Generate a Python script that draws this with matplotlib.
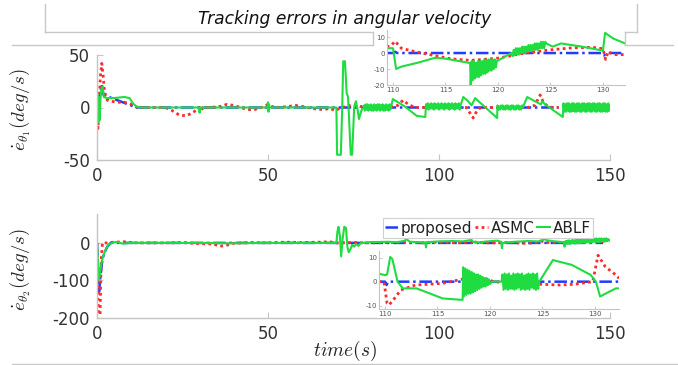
import numpy as np
import matplotlib
matplotlib.use("Agg")
import matplotlib.pyplot as plt
from matplotlib.lines import Line2D

plt.rcParams['font.family'] = ['DejaVu Sans']
plt.rcParams['mathtext.fontset'] = 'cm'
plt.rcParams['axes.unicode_minus'] = False

# ---------------- data ----------------
series_names = ["proposed", "ASMC", "ABLF"]
colors = {"proposed": "#1f3cff", "ASMC": "#ff2a2a", "ABLF": "#1fdc40"}

x_ticks_main = [0, 50, 100, 150]
y_ticks_top = [-50, 0, 50]
y_ticks_bot = [-200, -100, 0]
x_ticks_inset = [110, 115, 120, 125, 130]
y_ticks_inset_top = [-20, -10, 0, 10]
y_ticks_inset_bot = [-10, 0, 10]

# top main panel
top_t_prop = [0, 0.3, 0.6, 1.0, 1.4, 1.9, 11.5, 135]
top_v_prop = [0, -10, 4, 15, 22, 12, 0, 0]

top_t_asmc = [0, 0.3, 0.6, 1.0, 1.4, 1.8, 2.2, 3, 4, 6, 8, 10, 11, 12, 15, 20, 22, 24, 26, 28,
              30, 30.5, 31, 33, 36, 38, 40, 42, 44, 46, 48, 50, 51, 53, 56, 58, 60, 63, 66, 68,
              70, 71, 73, 75, 77, 80, 85, 88, 89.5, 91, 93, 100, 105, 108, 110, 110.6, 111.5,
              113, 118, 122, 126, 128, 129.6, 130.5, 131.5, 133, 135]
top_v_asmc = [0, -20, 5, 30, 42, 30, 15, 7, 6, 5, 5, 3, 1, 0, 0, 0, -3, -7, -8, -5,
              0, -3, 0, 0, 1, 3, 2, 0, -2, -2, 0, 3, 1, 0, 1, 2, 1, -1, -2, -1,
              -3, 0, 1, 3, 1, 0, 0, 2, 7, 3, 0, 0, 0, 0, -10, -6, -1,
              0, 0, 0, 0, 2, 12, 5, 2, 0, 0]

top_ablf_a_t = [0, 0.2, 0.4, 0.6, 0.8, 1.0, 1.3, 1.6, 2.0, 3, 5, 8, 9.5, 10.5, 11.5, 12.5,
                29.7, 30.0, 30.3, 49.8, 50.0, 50.15, 50.3, 50.5, 70.0, 70.2, 71.3, 71.7,
                72.0, 72.5, 73.0, 73.4, 74.2, 74.6, 75.2, 75.7, 76.2, 76.6, 77.3, 77.9]
top_ablf_a_v = [0, 12, -14, 10, -12, 8, 18, 20, 10, 9, 9, 10, 9, 4, 1, 0,
                0, -5, 0, 0, 5, -4, 3, 0, 0, -45, -45, 0,
                44, 44, 14, 10, -45, -45, 0, 6, -2, -11, -3, 0]
top_ablf_chat1 = [2, -3, 3, -2, 3, -3, 2, -2, 3, -3, 2, -3, 3, -2, 2, -3, 3, -2, 3, -3, 2, -2,
                  3, -3, 2, -3, 3, -2, 2, -3, 3, -2, 1]
top_ablf_b_t = [86.5, 90, 93.5, 96.0]
top_ablf_b_v = [8, 1, -8, -9]
top_ablf_chat2 = [3, -1, 4, -2, 3, -1, 4, -1, 3, -2, 4, -1, 3, -1, 4, -2, 3, -1, 4, -1, 3,
                  -2, 4, -1, 3, -1, 4, -2, 3, -1, 4, -1, 3, -2, 4, -1, 3, -1, 4, -2, 2]
top_ablf_c_t = [107.1, 108.5, 109.5, 110.6, 111.2, 117.0]
top_ablf_c_v = [10, 6, 2, 9, 7, -10]
top_ablf_chat3 = [2, -2, 1, -2, 2, -1, 2, -2, 1, -2, 2, -1, 2, -2, 1, -2, 2, -1, 2, -2, 1,
                  -2, 2, -1, 2, -2, 1, -2, 2, 0]
top_ablf_d_t = [125.8, 128.0, 129.8, 130.2, 131.0, 136.2]
top_ablf_d_v = [10, 6, 3, 6, 3, -9]
top_ablf_chat4 = [4, -4, 3, -4, 4, -3, 4, -4, 3, -4, 4, -3, 4, -4, 3, -4, 4, -3, 4, -4, 3,
                  -4, 4, -3, 4, -4, 3, -4, 4, -3, 4, -4, 3, -4, 4, -3, 4, -4, 3, -4, 4, -3,
                  4, -4, 3, -4, 4, -3, 4, -4, 3, -4, 4, -3, 2]

# top inset
ti_t_prop = [109.4, 110.0, 110.2, 110.4, 129.9, 130.1, 130.3, 132.3]
ti_v_prop = [0, 0, 0.8, 0, 0, -1.5, 0, 0]
ti_t_asmc = [109.4, 109.8, 110.2, 110.8, 112.0, 113.5, 115.5, 117.4, 119.0, 120.0, 121.0,
             122.0, 123.8, 125.0, 127.0, 129.0, 130.0, 130.25, 130.5, 131.0, 132.3]
ti_v_asmc = [4, 4.5, 7.4, 3, 1, -1, -3.6, -4.6, -3.8, -3.2, -2,
             -0.6, 1, 2, 3.2, 3.6, 2.7, -4, 1, -1, -1]
ti_ablf_a_t = [109.4, 110.0, 110.3, 110.8, 112.4, 114.0, 115.0, 117.35]
ti_ablf_a_v = [3, 3, -10, -8.5, -6, -3, -3.5, -6.3]
ti_ablf_chat1 = [-20, -5, -17, -5, -16, -6, -15, -5, -15, -5, -14, -5, -13, -4, -13, -5,
                 -12, -4, -11, -4, -11, -4, -10, -4, -9, -5]
ti_ablf_b_t = [121.3]
ti_ablf_b_v = [0]
ti_ablf_chat2 = [-2, 2, -1, 3, -1, 3, -1, 3, 0, 4, 0, 4, 0, 4, 1, 5, 1, 5, 1, 5, 2, 6, 2,
                 6, 2, 6, 3, 7, 3, 7, 3, 7, 6]
ti_ablf_c_t = [125.2, 126.0, 128.0, 130.0, 130.2, 131.0, 132.3]
ti_ablf_c_v = [4, 6, 4, 1.5, 12.6, 9, 5.5]

# bottom main panel
bm_t_prop = [0, 0.3, 0.6, 1.0, 1.5, 2.0, 3.0, 4.0, 148]
bm_v_prop = [0, -60, -130, -90, -50, -30, -10, 0, 0]
bm_t_asmc = [0, 0.2, 0.4, 0.9, 1.2, 1.6, 3, 5, 8, 10, 12, 20, 25, 30, 34, 36, 38, 40, 45,
             50, 55, 60, 65, 68, 70, 75, 80, 90, 95, 100, 105, 109.5, 110, 110.5, 115, 120,
             125, 128, 130, 131, 140, 145, 148]
bm_v_asmc = [0, -100, -190, -190, -50, 0, 0, 2, 3, 1, 0, 0, 1, -2, -3, -9, -6, -1, 1,
             0, 2, 1, 2, 3, 0, 1, 0, 2, 0, 2, 0, 1, 8, 2, 0, 1,
             -1, 0, 5, 1, 1, 2, 3]
bm_ablf_a_t = [0, 0.3, 0.6, 1.0, 1.5, 2.3, 3.3, 4.9, 6, 7.5, 10, 30, 40, 50, 70, 70.3,
               70.6, 71.0, 71.4, 71.8, 72.3, 72.8, 73.2, 73.6, 74.2, 74.6, 75.2, 75.8,
               76.5, 77, 80, 85, 88, 90, 90.5, 91.5, 94, 96, 96.2, 96.4, 100, 104, 107,
               109.5, 110, 111.5, 114, 117, 118.2, 118.4, 118.6, 122, 126, 129, 131,
               131.5, 134, 136.5, 136.7, 136.9]
bm_ablf_a_v = [0, -60, -98, -70, -45, -23, -5, 2, 2, -2, 0, 0, -1, 0, 0, 30,
               43, 20, -36, 10, 43, 40, -10, -25, -15, -5, -10, -3,
               -8, -1, 2, 3, 2, 6, 10, 3, 2, 0, -12, 2, 4, 5, 4,
               8, 3, 1, 4, 6, 3, -14, 0, 3, 5, 4, 10,
               7, 4, 2, -10, 0]
bm_ablf_chat = [5, -3, 6, -2, 7, -3, 6, -2, 8, -1, 7, -2, 8, -1, 9, 0, 8, -1, 9, 0, 10, 1,
                9, 0, 10, 1, 11, 2, 10, 1, 11, 2, 12, 3, 11, 2, 12, 3, 11, 2, 12, 3, 12, 4,
                11, 3, 12, 4, 12, 5, 10, 6, 8]

# bottom inset
bi_t_prop = [109.4, 110.0, 110.15, 110.3, 132.3]
bi_v_prop = [0, 0, -1.4, 0, 0]
bi_t_asmc = [109.4, 109.9, 110.2, 110.4, 110.9, 111.5, 112.9, 115.5, 117.0, 118.4, 119.4,
             120.4, 122.0, 125.0, 126.6, 128.0, 129.8, 130.3, 131.0, 132.0, 132.3]
bi_v_asmc = [0, 0, -9, -9.7, -7, -3.5, -1.4, -0.7, 0.7, 2, 1.4,
             0, -0.7, -1.1, -1.4, -1.1, 0, 11, 6.2, 2.8, 1.4]
bi_ablf_a_t = [109.4, 110.0, 110.2, 110.5, 110.7, 111.2, 111.7, 113.0, 114.2, 115.5, 117.4]
bi_ablf_a_v = [3.4, 2.7, 3, 10.3, 9.5, 0, -2.8, -2.8, -4.8, -7, -7.6]
bi_ablf_chat1 = [6, -6, 5.5, -5.5, 5, -5, 4.5, -5, 4, -4.5, 3.5, -4, 3, -3.5, 3, -3, 2.5,
                 -2.5, 2, -2, 1.5, -2, 1.5, -1.5, 1, -1]
bi_ablf_b_t = [120.2, 121.1]
bi_ablf_b_v = [0, 0]
bi_ablf_chat2 = [3, -3.4, 3.4, -3, 3, -3.4, 3.4, -3, 2.5, -3, 3.4, -3.4, 3, -3, 3.4, -2.5,
                 3, -3.4, 3.4, -3, 2.5, -3.4, 3, -3, 3.4, -3.4, 3, -2.5, 3.4, -3, 3, -3.4,
                 3.4, -3, 0]
bi_ablf_c_t = [126.0, 127.8, 129.6, 130.1, 130.5, 131.1, 132.0, 132.3]
bi_ablf_c_v = [9, 7, 2.8, 0, -6.2, -4.8, -2.8, -2.8]


def build(pieces):
    ts, vs = [], []
    for p in pieces:
        if p[0] == "pts":
            ts.extend(p[1]); vs.extend(p[2])
        else:
            _, t0, t1, vals = p
            ts.extend(np.linspace(t0, t1, len(vals))); vs.extend(vals)
    return np.array(ts), np.array(vs)


top_ablf = build([("pts", top_ablf_a_t, top_ablf_a_v), ("chat", 78.1, 86.0, top_ablf_chat1),
                  ("pts", top_ablf_b_t, top_ablf_b_v), ("chat", 96.2, 106.3, top_ablf_chat2),
                  ("pts", top_ablf_c_t, top_ablf_c_v), ("chat", 117.1, 124.5, top_ablf_chat3),
                  ("pts", top_ablf_d_t, top_ablf_d_v), ("chat", 136.4, 150.0, top_ablf_chat4)])
ti_ablf = build([("pts", ti_ablf_a_t, ti_ablf_a_v), ("chat", 117.4, 119.9, ti_ablf_chat1),
                 ("pts", ti_ablf_b_t, ti_ablf_b_v), ("chat", 121.4, 124.6, ti_ablf_chat2),
                 ("pts", ti_ablf_c_t, ti_ablf_c_v)])
bm_ablf = build([("pts", bm_ablf_a_t, bm_ablf_a_v), ("chat", 137.0, 150.0, bm_ablf_chat)])
bi_ablf = build([("pts", bi_ablf_a_t, bi_ablf_a_v), ("chat", 117.45, 120.0, bi_ablf_chat1),
                 ("pts", bi_ablf_b_t, bi_ablf_b_v), ("chat", 121.2, 124.7, bi_ablf_chat2),
                 ("pts", bi_ablf_c_t, bi_ablf_c_v)])

# ---------------- figure ----------------
W, H = 678, 365
fig = plt.figure(figsize=(W / 100, H / 100), dpi=100)
fig.patch.set_facecolor("white")


def fx(px):
    return px / W


def fy(py):
    return 1 - py / H


spine_c = "#c4c4c4"
tick_c = "#333333"


def style_main(ax):
    for s in ["top", "right"]:
        ax.spines[s].set_visible(False)
    for s in ["left", "bottom"]:
        ax.spines[s].set_color(spine_c)
        ax.spines[s].set_linewidth(1.0)
    ax.tick_params(direction="in", length=4, width=0.8, color=spine_c,
                   labelsize=12, labelcolor=tick_c, pad=5)
    ax.set_facecolor("none")


def style_inset(ax):
    for s in ["top", "right"]:
        ax.spines[s].set_visible(False)
    for s in ["left", "bottom"]:
        ax.spines[s].set_color(spine_c)
        ax.spines[s].set_linewidth(0.8)
    ax.tick_params(direction="in", length=2, width=0.6, color=spine_c,
                   labelsize=5, labelcolor="#555555", pad=1.5)
    ax.set_facecolor("white")


def draw(ax, prop, asmc, ablf, lw_scale=1.0):
    l1, = ax.plot(prop[0], prop[1], color=colors["proposed"], lw=1.8 * lw_scale,
                  linestyle=(0, (5, 1.5, 1, 1.5)), label="proposed")
    l2, = ax.plot(asmc[0], asmc[1], color=colors["ASMC"], lw=2.0 * lw_scale,
                  linestyle=(0, (1, 1.2)), label="ASMC")
    l3, = ax.plot(ablf[0], ablf[1], color=colors["ABLF"], lw=1.5 * lw_scale,
                  linestyle="-", label="ABLF")
    return [l1, l2, l3]


# top main axes
ax1 = fig.add_axes([fx(97), fy(160), fx(610) - fx(97), fy(55) - fy(160)])
style_main(ax1)
draw(ax1, (top_t_prop, top_v_prop), (top_t_asmc, top_v_asmc), top_ablf)
ax1.set_xlim(0, 150)
ax1.set_ylim(-50, 50)
ax1.set_xticks(x_ticks_main)
ax1.set_yticks(y_ticks_top)

# bottom main axes
ax2 = fig.add_axes([fx(97), fy(318), fx(610) - fx(97), fy(214) - fy(318)])
style_main(ax2)
handles = draw(ax2, (bm_t_prop, bm_v_prop), (bm_t_asmc, bm_v_asmc), bm_ablf)
ax2.set_xlim(0, 150)
ax2.set_ylim(-200, 77)
ax2.set_xticks(x_ticks_main)
ax2.set_yticks(y_ticks_bot)

leg = ax2.legend(handles=handles, labels=series_names, ncol=3, loc="lower left",
                 bbox_to_anchor=(fx(383), fy(238)), bbox_transform=fig.transFigure,
                 fontsize=11, handlelength=0.85, handletextpad=0.15, columnspacing=0.2,
                 borderpad=0.15, borderaxespad=0, fancybox=False, framealpha=1)
leg.get_frame().set_edgecolor("#d0d0d0")
leg.get_frame().set_linewidth(0.8)
for t in leg.get_texts():
    t.set_color("#222222")

# top inset
ai1 = fig.add_axes([fx(387), fy(85), fx(625) - fx(387), fy(30) - fy(85)])
style_inset(ai1)
draw(ai1, (ti_t_prop, ti_v_prop), (ti_t_asmc, ti_v_asmc), ti_ablf, lw_scale=1.0)
ai1.set_xlim(109.43, 132.1)
ai1.set_ylim(-20, 14.4)
ai1.set_xticks(x_ticks_inset)
ai1.set_yticks(y_ticks_inset_top)

# bottom inset
ai2 = fig.add_axes([fx(379), fy(309), fx(619) - fx(379), fy(250.5) - fy(309)])
style_inset(ai2)
draw(ai2, (bi_t_prop, bi_v_prop), (bi_t_asmc, bi_v_asmc), bi_ablf, lw_scale=1.0)
ai2.set_xlim(109.43, 132.3)
ai2.set_ylim(-11.4, 13)
ai2.set_xticks(x_ticks_inset)
ai2.set_yticks(y_ticks_inset_bot)

for ax in (ai1, ai2):
    for lab in ax.get_xticklabels() + ax.get_yticklabels():
        lab.set_bbox(dict(facecolor="white", edgecolor="none", pad=0.6))

# labels
fig.text(fx(20), fy(110), r"$\dot{e}_{\theta_1}(deg/s)$", rotation=90, ha="center",
         va="center", fontsize=13.5, color="#222222")
fig.text(fx(20), fy(270), r"$\dot{e}_{\theta_2}(deg/s)$", rotation=90, ha="center",
         va="center", fontsize=13.5, color="#222222")
fig.text(fx(345), fy(351), r"$time(s)$", ha="center", va="center", fontsize=14,
         color="#222222")
fig.text(fx(345), fy(19), "Tracking errors in angular velocity", ha="center", va="center",
         fontsize=12.3, style="italic", color="#111111")

# decorative frame lines (figure coordinates)
deco_c = "#c8c8c8"
segments = [
    ((45, 45), (4, 32)), ((45, 373), (32, 32)), ((625, 637), (32, 32)), ((637, 637), (4, 32)),
    ((373, 373), (32, 45)), ((625, 625), (32, 45)),
    ((12, 373), (45, 45)), ((625, 673), (45, 45)),
    ((12, 678), (364, 364)),
]
for xs, ys in segments:
    fig.add_artist(Line2D([fx(xs[0]), fx(xs[1])], [fy(ys[0]), fy(ys[1])],
                          color=deco_c, lw=1.0, transform=fig.transFigure))

fig.savefig("out.png", dpi=100)
